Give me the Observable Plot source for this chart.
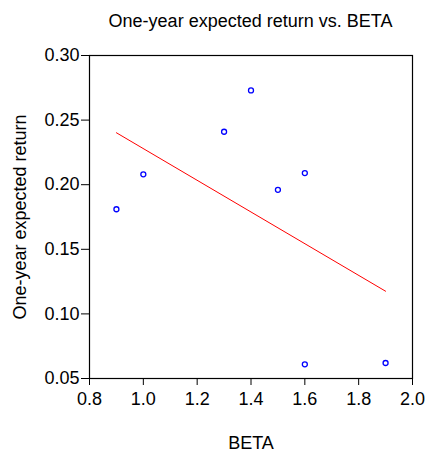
<!DOCTYPE html>
<html>
<head>
<meta charset="utf-8">
<script src="https://cdn.jsdelivr.net/npm/d3@7"></script>
<script src="https://cdn.jsdelivr.net/npm/@observablehq/plot@0.6"></script>
<style>
  body { margin: 0; background: #fff; font-family: "Liberation Sans", Arial, sans-serif; }
  #title { width: 427px; box-sizing: border-box; padding: 11px 15px 4px 89px; height: 35px;
           line-height: 20px; font-size: 18px; text-align: center; color: #000; }
</style>
</head>
<body>
<div id="title">One-year expected return vs. BETA</div>
<div id="chart"></div>
<script>
const beta = [0.9, 1.0, 1.3, 1.4, 1.5, 1.6, 1.6, 1.9];
const expectedReturn = [0.181, 0.208, 0.241, 0.273, 0.196, 0.209, 0.061, 0.062];
const xTicks = [0.8, 1.0, 1.2, 1.4, 1.6, 1.8, 2.0];
const yTicks = [0.05, 0.10, 0.15, 0.20, 0.25, 0.30];
const xLabel = "BETA";
const yLabel = "One-year expected return";

const data = beta.map((b, i) => ({beta: b, ret: expectedReturn[i]}));

const chart = Plot.plot({
  width: 427,
  height: 423,
  marginTop: 20,
  marginBottom: 80,
  marginLeft: 89,
  marginRight: 15,
  style: {fontSize: "18px", fontFamily: "'Liberation Sans', Arial, sans-serif", color: "#000", background: "#fff"},
  x: {domain: [0.8, 2.0]},
  y: {domain: [0.05, 0.30]},
  marks: [
    Plot.axisX({ticks: xTicks, tickFormat: d3.format(".1f"), tickSize: 7, tickPadding: 7, label: null, fontSize: 18}),
    Plot.axisY({ticks: yTicks, tickFormat: d3.format(".2f"), tickSize: 8, tickPadding: 2, label: null, fontSize: 18}),
    Plot.frame({stroke: "#000", strokeWidth: 1.2}),
    Plot.linearRegressionY(data, {x: "beta", y: "ret", stroke: "#ff0000", strokeWidth: 1, ci: 0}),
    Plot.dot(data, {x: "beta", y: "ret", r: 2.5, stroke: "#0000ff", strokeWidth: 1.3, fill: "none"}),
    Plot.text([xLabel], {frameAnchor: "bottom", text: d => d, dy: 70, fontSize: 18, fill: "#000"}),
    Plot.text([yLabel], {frameAnchor: "left", textAnchor: "middle", text: d => d, rotate: -90, dx: -69, fontSize: 18, fill: "#000"})
  ]
});
document.getElementById("chart").appendChild(chart);
</script>
</body>
</html>
